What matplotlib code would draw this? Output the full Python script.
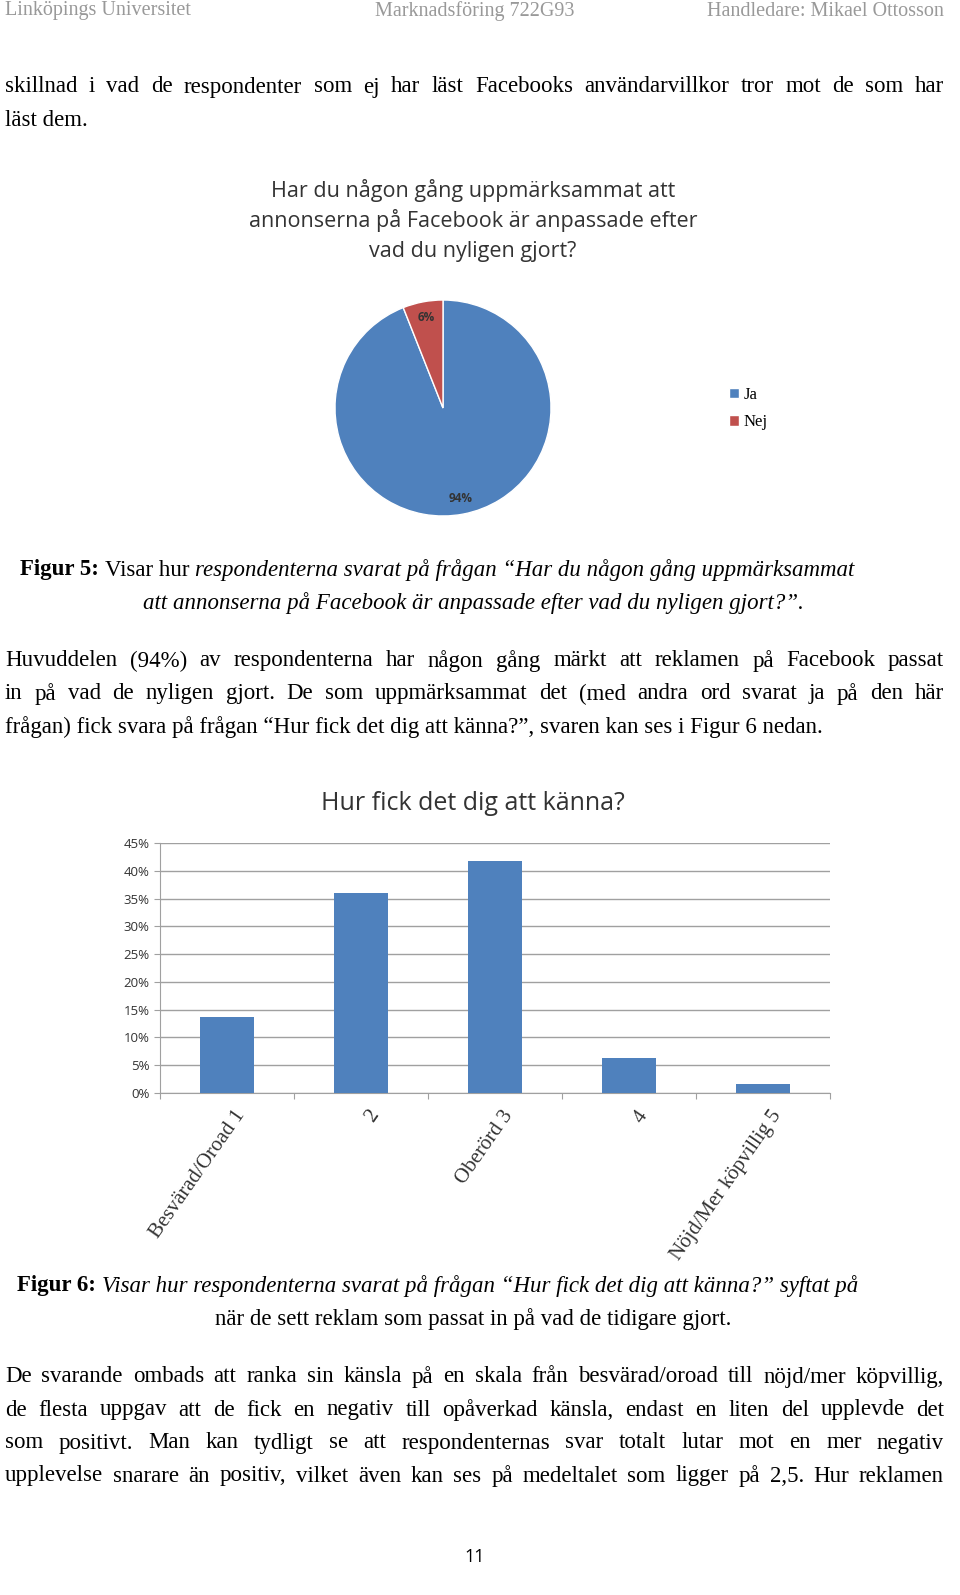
import matplotlib
matplotlib.use("Agg")
import matplotlib.pyplot as plt

W, H = 960, 1595
pie_labels = ["Ja", "Nej"]
pie_values = [94, 6]
bar_categories = ["Besvärad/Oroad 1", "2", "Oberörd 3", "4", "Nöjd/Mer köpvillig 5"]
bar_values = [13.7, 36.0, 41.8, 6.3, 1.6]
yticks = [0, 5, 10, 15, 20, 25, 30, 35, 40, 45]

BLUE, RED = "#4F81BD", "#C0504D"
fig = plt.figure(figsize=(W/100, H/100), dpi=100)
renderer = fig.canvas.get_renderer()
SERIF = "Liberation Serif"
SANS = "Open Sans"
BODY = 16.5

def T(x, y, s, **kw):
    kw.setdefault("family", SERIF)
    kw.setdefault("size", BODY)
    kw.setdefault("color", "black")
    return fig.text(x/W, 1-y/H, s, va="center", **kw)

def width(t):
    return t.get_window_extent(renderer).width

def segs(x, y, parts):
    for s, kw in parts:
        t = T(x, y, s, **kw)
        x += width(t)

def justify(y, line, x0=5, x1=944, **kw):
    words = line.split(" ")
    ts = [T(0, y, w, **kw) for w in words]
    ws = [width(t) for t in ts]
    gap = (x1 - x0 - sum(ws)) / (len(words) - 1)
    x = x0
    for t, w in zip(ts, ws):
        t.set_x(x/W)
        x += w + gap

def ax_px(l, t, r, b):
    return fig.add_axes([l/W, 1-b/H, (r-l)/W, (b-t)/H])

# header
T(5, 11, "Linköpings Universitet", color="#999999", size=14.5)
T(475, 11, "Marknadsföring 722G93", color="#999999", size=14.5, ha="center")
T(944, 11, "Handledare: Mikael Ottosson", color="#999999", size=14.5, ha="right")

justify(87, "skillnad i vad de respondenter som ej har läst Facebooks användarvillkor tror mot de som har")
T(5, 120, "läst dem.")

for i, s in enumerate(["Har du någon gång uppmärksammat att",
                       "annonserna på Facebook är anpassade efter",
                       "vad du nyligen gjort?"]):
    T(473, 190 + 31*i, s, family=SANS, size=15.5, ha="center", color="#333333")

pax = ax_px(335, 300, 551, 516)
wedges, _, autot = pax.pie(pie_values, colors=[BLUE, RED], startangle=90, counterclock=False,
                           autopct="%d%%", pctdistance=0.85,
                           wedgeprops=dict(edgecolor="white", linewidth=1),
                           textprops=dict(family=SANS, size=8.5, color="#333333", weight="bold"))
pax.set_xlim(-1.0, 1.0)
pax.set_ylim(-1.0, 1.0)
lax = ax_px(722, 380, 800, 440)
lax.axis("off")
lax.legend(wedges, pie_labels, loc="upper left", frameon=False, prop=dict(family=SERIF, size=12),
           handlelength=0.6, handleheight=0.6, borderaxespad=0, labelspacing=0.7, handletextpad=0.3)

segs(20, 570, [("Figur 5: ", dict(weight="bold")), ("Visar hur ", {}),
               ("respondenterna svarat på frågan “Har du någon gång uppmärksammat", dict(style="italic"))])
T(473, 603, "att annonserna på Facebook är anpassade efter vad du nyligen gjort?”.", style="italic", ha="center")

justify(661, "Huvuddelen (94%) av respondenterna har någon gång märkt att reklamen på Facebook passat")
justify(694, "in på vad de nyligen gjort. De som uppmärksammat det (med andra ord svarat ja på den här")
T(5, 727, "frågan) fick svara på frågan “Hur fick det dig att känna?”, svaren kan ses i Figur 6 nedan.")

T(473, 803, "Hur fick det dig att känna?", family=SANS, size=18, ha="center", color="#333333")
bax = ax_px(160, 843, 830, 1093)
x = list(range(len(bar_categories)))
bax.bar(x, bar_values, width=0.4, color=BLUE, zorder=3)
bax.set_xlim(-0.5, len(bar_categories)-0.5)
bax.set_ylim(0, 45)
bax.set_yticks(yticks)
bax.set_yticklabels([f"{v}%" for v in yticks], family=SANS, fontsize=9.5, color="#333333")
bax.yaxis.grid(True, color="#A0A0A0", linewidth=1, zorder=0)
bax.set_xticks([i - 0.5 for i in range(len(bar_categories)+1)])
bax.set_xticklabels([])
bax.tick_params(axis="x", length=4, color="#A0A0A0")
bax.tick_params(axis="y", length=4, color="#A0A0A0")
for s in ["top", "right"]:
    bax.spines[s].set_visible(False)
for s in ["left", "bottom"]:
    bax.spines[s].set_color("#A0A0A0")
for i, c in enumerate(bar_categories):
    bax.text(i + 0.05, -2.5, c, rotation=55, ha="right", va="top", rotation_mode="anchor",
             family=SERIF, fontsize=15, color="#333333")

segs(17, 1286, [("Figur 6: ", dict(weight="bold")),
                ("Visar hur respondenterna svarat på frågan “Hur fick det dig att känna?” syftat på", dict(style="italic"))])
T(473, 1319, "när de sett reklam som passat in på vad de tidigare gjort.", ha="center")

justify(1377, "De svarande ombads att ranka sin känsla på en skala från besvärad/oroad till nöjd/mer köpvillig,")
justify(1410, "de flesta uppgav att de fick en negativ till opåverkad känsla, endast en liten del upplevde det")
justify(1443, "som positivt. Man kan tydligt se att respondenternas svar totalt lutar mot en mer negativ")
justify(1476, "upplevelse snarare än positiv, vilket även kan ses på medeltalet som ligger på 2,5. Hur reklamen")
T(475, 1557, "11", family=SANS, size=13, ha="center")

fig.savefig("out.png", dpi=100, facecolor="white")
